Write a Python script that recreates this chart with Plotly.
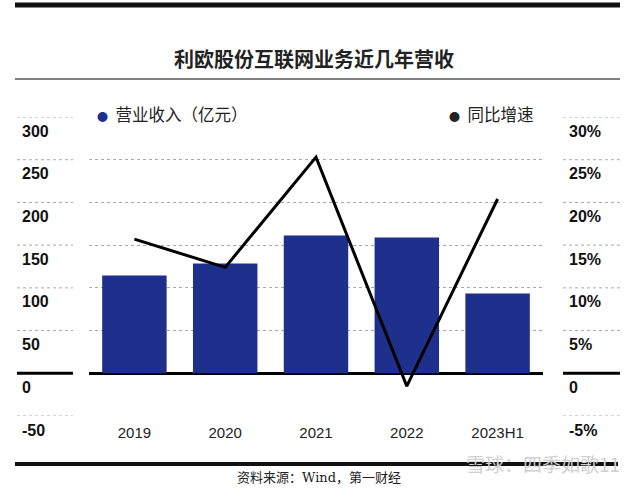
import plotly.graph_objects as go

# data
years = ["2019", "2020", "2021", "2022", "2023H1"]
revenue = [114.4, 128.4, 161.2, 158.9, 93.3]      # 营业收入（亿元）
growth = [15.7, 12.4, 25.3, -1.5, 20.4]           # 同比增速 %
left_ticks = [300, 250, 200, 150, 100, 50, 0, -50]
right_ticks = [30, 25, 20, 15, 10, 5, 0, -5]
right_labels = ["30%", "25%", "20%", "15%", "10%", "5%", "0", "-5%"]

W, H = 627, 499
L, R, T, B = 89, 84, 117, 83
pw, ph = W - L - R, H - T - B

def px(x):
    return (x - L) / pw

def py(y):
    return (H - B - y) / ph

BLUE = "#1f2f8c"
GRID = "#a8a8a8"
FONT = "Liberation Sans, Arial, Noto Sans CJK SC"
CJK = "Noto Sans CJK SC, sans-serif"

fig = go.Figure()
fig.add_trace(go.Bar(x=years, y=revenue, marker_color=BLUE, marker_line_width=0,
                     width=0.71, showlegend=False))
fig.add_trace(go.Scatter(x=years, y=growth, yaxis="y2", mode="lines",
                         line=dict(color="black", width=3), showlegend=False))

shapes = []
# side segments of grid lines
for t in left_ticks:
    for x0, x1 in [(17, 73), (563, 620)]:
        if t == 0:
            line = dict(color="black", width=3)
        else:
            line = dict(color=GRID, width=1, dash="dot")
        shapes.append(dict(type="line", xref="paper", yref="y", x0=px(x0), x1=px(x1),
                           y0=t, y1=t, line=line, layer="below"))
# frame lines
shapes.append(dict(type="line", xref="paper", yref="paper", x0=px(15), x1=px(620),
                   y0=py(5), y1=py(5), line=dict(color="#111", width=5)))
shapes.append(dict(type="line", xref="paper", yref="paper", x0=px(15), x1=px(620),
                   y0=py(79), y1=py(79), line=dict(color="#555", width=1.5)))
shapes.append(dict(type="line", xref="paper", yref="paper", x0=px(15), x1=px(618),
                   y0=py(464), y1=py(464), line=dict(color="#111", width=4)))

ann = []
for t in left_ticks:
    ann.append(dict(text=str(t), xref="paper", yref="y", x=px(20), y=t, yshift=-14,
                    xanchor="left", showarrow=False,
                    font=dict(family=FONT, size=16, color="#111", weight="bold")))
for t, lab in zip(right_ticks, right_labels):
    ann.append(dict(text=lab, xref="paper", yref="y2", x=px(567), y=t, yshift=-14,
                    xanchor="left", showarrow=False,
                    font=dict(family=FONT, size=16, color="#111", weight="bold")))

ann.append(dict(text="利欧股份互联网业务近几年营收", xref="paper", yref="paper",
                x=px(314), y=py(42), showarrow=False,
                font=dict(family=CJK, size=20, color="#222", weight="bold")))
ann.append(dict(text="<span style='color:%s;font-size:11px'>●</span>  营业收入（亿元）" % BLUE,
                xref="paper", yref="paper", x=px(95), y=py(100), xanchor="left",
                showarrow=False, font=dict(family=CJK, size=16.5, color="#222")))
ann.append(dict(text="<span style='font-size:11px'>●</span>  同比增速", xref="paper",
                yref="paper", x=px(447), y=py(100), xanchor="left", showarrow=False,
                font=dict(family=CJK, size=16.5, color="#222")))
ann.append(dict(text="资料来源：Wind，第一财经", xref="paper", yref="paper",
                x=px(319), y=py(487), showarrow=False,
                font=dict(family="DejaVu Serif, Noto Sans CJK SC", size=13, color="#222")))
ann.append(dict(text="雪球：四季如歌11", xref="paper", yref="paper",
                x=px(622), y=py(479), xanchor="right", showarrow=False,
                font=dict(family=CJK, size=19, color="#d0d0d0")))

fig.update_layout(
    width=W, height=H,
    margin=dict(l=L, r=R, t=T, b=B),
    paper_bgcolor="white", plot_bgcolor="white",
    shapes=shapes, annotations=ann,
    xaxis=dict(showline=False, ticks="", ticklabelstandoff=6,
               tickfont=dict(family=FONT, size=15, color="#222")),
    yaxis=dict(range=[-50, 300], tickvals=left_ticks, showticklabels=False,
               showgrid=True, gridcolor=GRID, gridwidth=1, griddash="dot",
               zeroline=True, zerolinecolor="black", zerolinewidth=3),
    yaxis2=dict(range=[-5, 30], overlaying="y", side="right", showgrid=False,
                showticklabels=False, zeroline=False),
)

fig.write_html("out.html", config={"displayModeBar": False},
               post_script="document.body.style.margin='0';")
